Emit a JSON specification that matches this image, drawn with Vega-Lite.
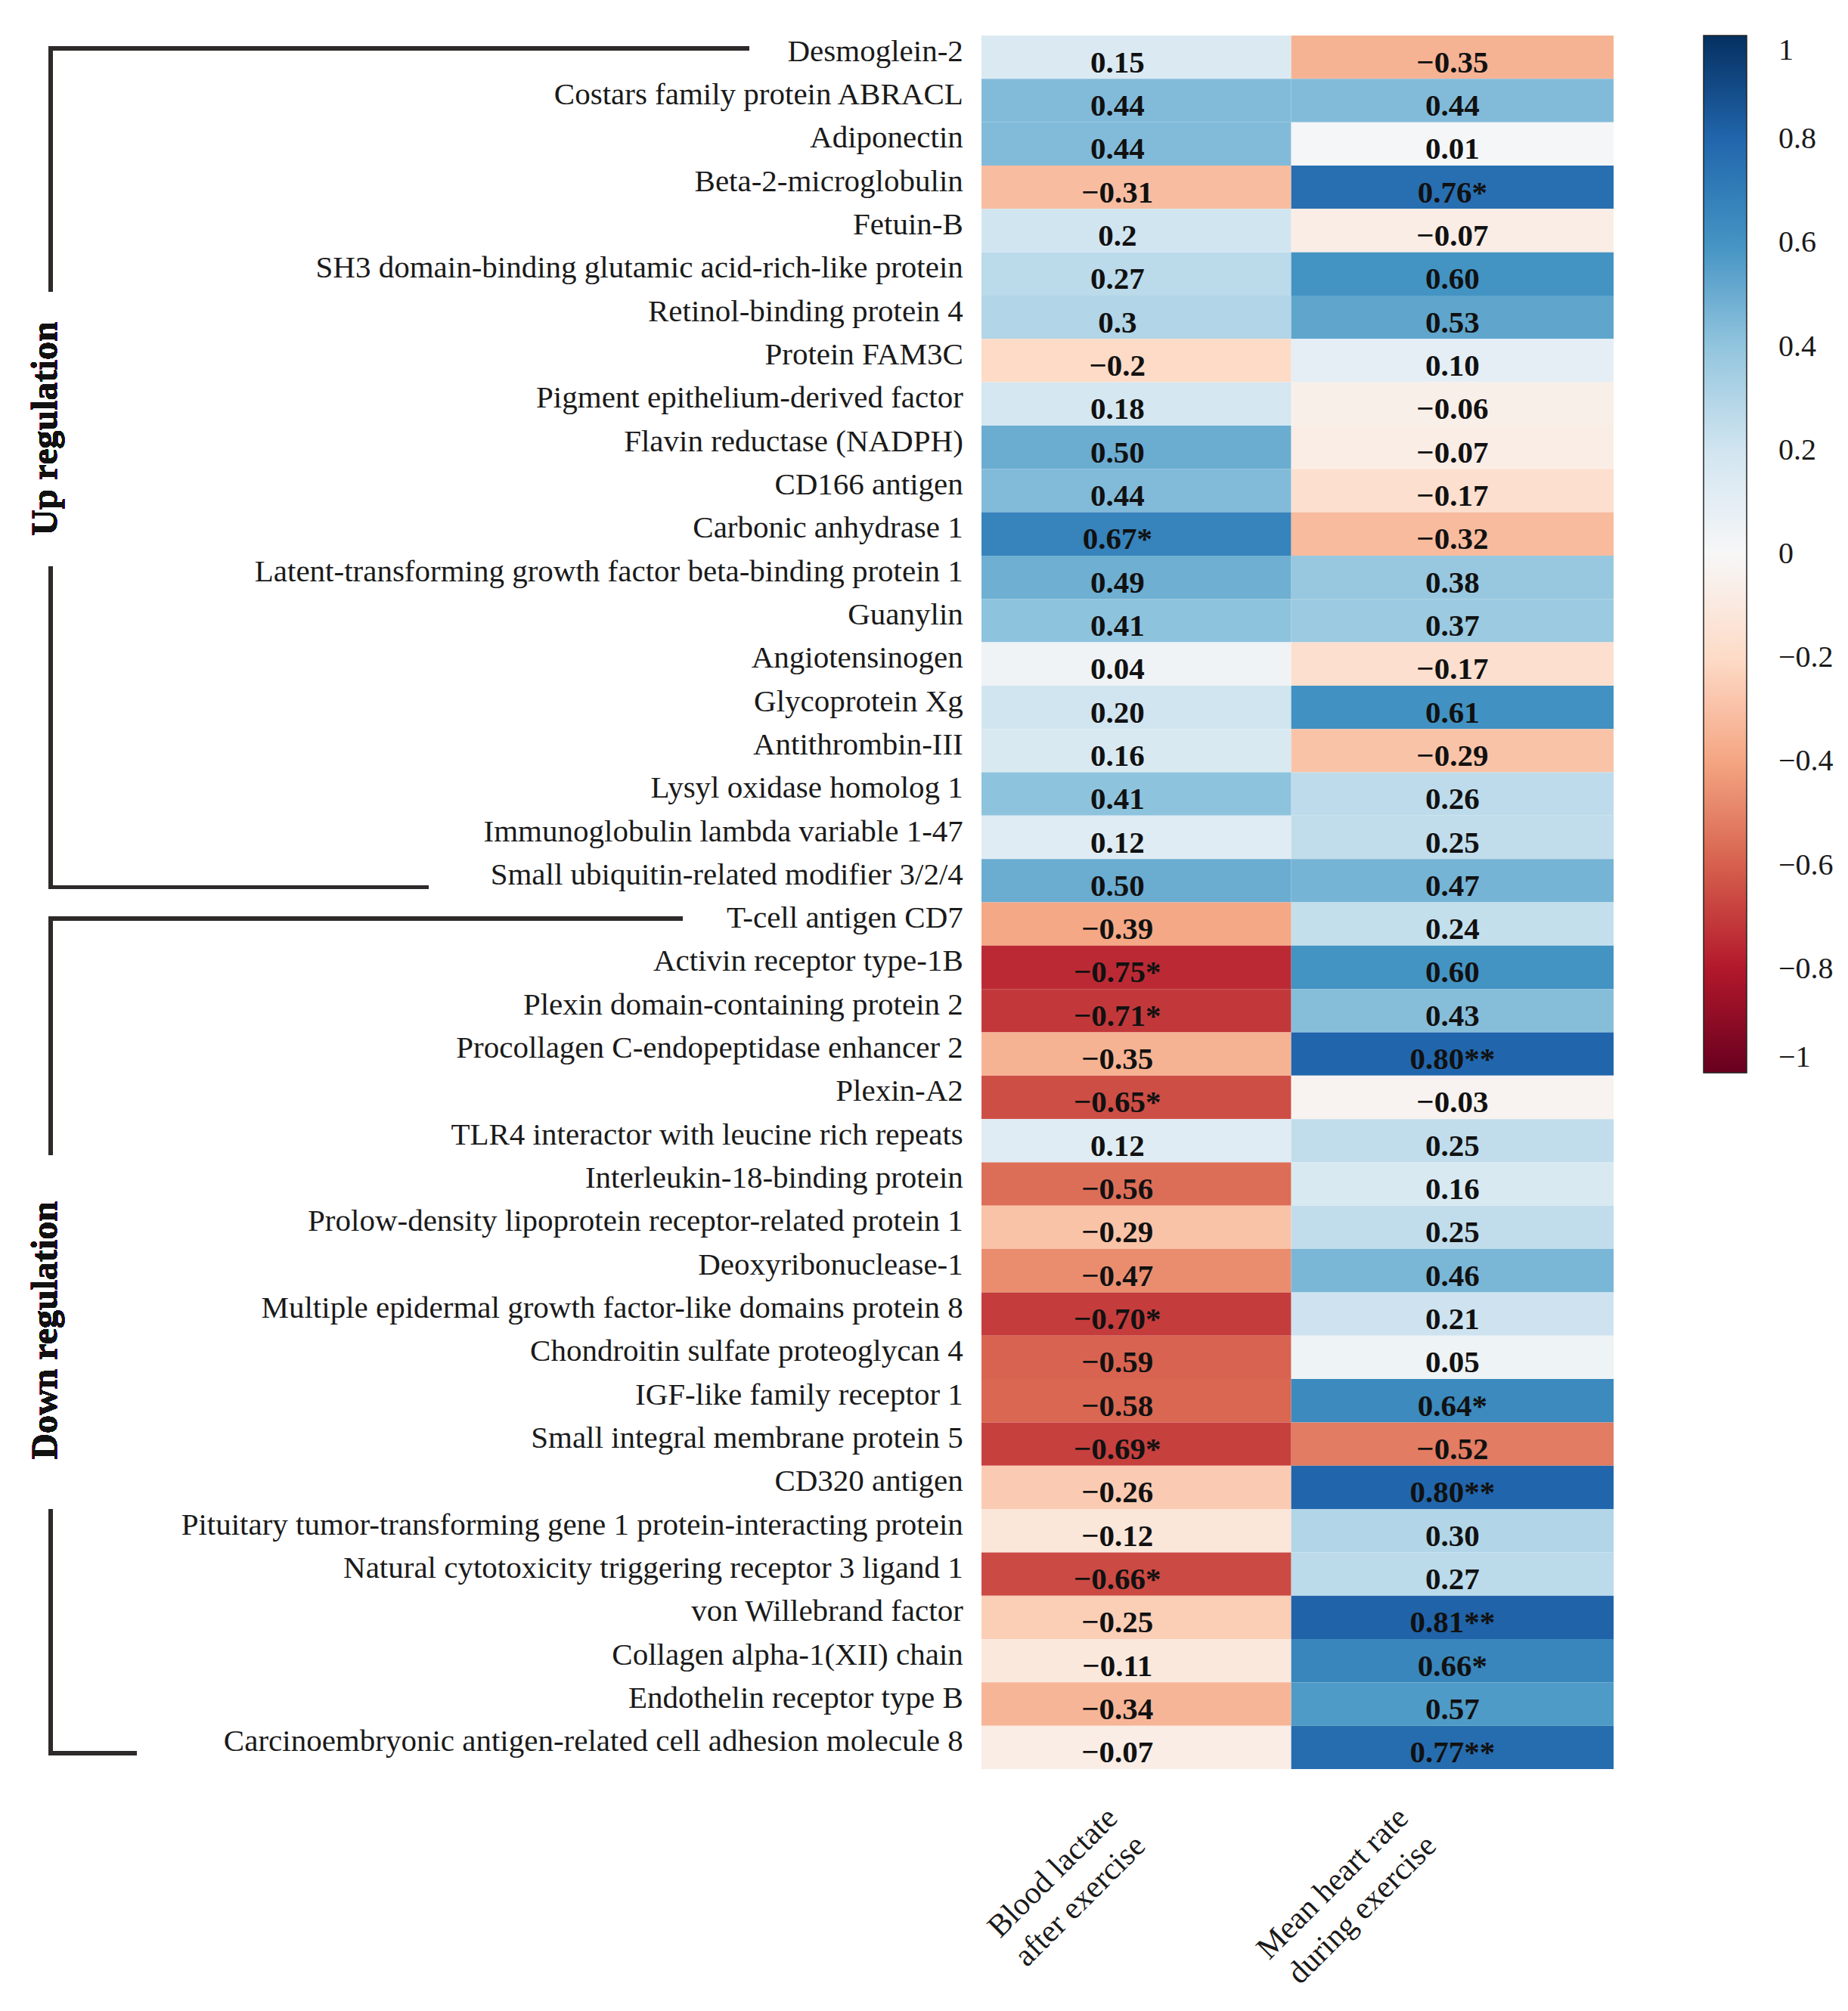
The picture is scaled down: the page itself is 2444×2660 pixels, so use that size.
{
  "$schema": "https://vega.github.io/schema/vega-lite/v6.json",
  "width": 2115,
  "height": 2293,
  "padding": {"left": 19, "top": 47, "right": 5, "bottom": 5},
  "background": "white",
  "config": {"view": {"stroke": null}},
  "data": {"values": [
    {"i":0,"protein":"Desmoglein-2","measure":"lactate","r":0.15,"label":"0.15"},
    {"i":0,"protein":"Desmoglein-2","measure":"hr","r":-0.35,"label":"−0.35"},
    {"i":1,"protein":"Costars family protein ABRACL","measure":"lactate","r":0.44,"label":"0.44"},
    {"i":1,"protein":"Costars family protein ABRACL","measure":"hr","r":0.44,"label":"0.44"},
    {"i":2,"protein":"Adiponectin","measure":"lactate","r":0.44,"label":"0.44"},
    {"i":2,"protein":"Adiponectin","measure":"hr","r":0.01,"label":"0.01"},
    {"i":3,"protein":"Beta-2-microglobulin","measure":"lactate","r":-0.31,"label":"−0.31"},
    {"i":3,"protein":"Beta-2-microglobulin","measure":"hr","r":0.76,"label":"0.76*"},
    {"i":4,"protein":"Fetuin-B","measure":"lactate","r":0.2,"label":"0.2"},
    {"i":4,"protein":"Fetuin-B","measure":"hr","r":-0.07,"label":"−0.07"},
    {"i":5,"protein":"SH3 domain-binding glutamic acid-rich-like protein","measure":"lactate","r":0.27,"label":"0.27"},
    {"i":5,"protein":"SH3 domain-binding glutamic acid-rich-like protein","measure":"hr","r":0.60,"label":"0.60"},
    {"i":6,"protein":"Retinol-binding protein 4","measure":"lactate","r":0.3,"label":"0.3"},
    {"i":6,"protein":"Retinol-binding protein 4","measure":"hr","r":0.53,"label":"0.53"},
    {"i":7,"protein":"Protein FAM3C","measure":"lactate","r":-0.2,"label":"−0.2"},
    {"i":7,"protein":"Protein FAM3C","measure":"hr","r":0.10,"label":"0.10"},
    {"i":8,"protein":"Pigment epithelium-derived factor","measure":"lactate","r":0.18,"label":"0.18"},
    {"i":8,"protein":"Pigment epithelium-derived factor","measure":"hr","r":-0.06,"label":"−0.06"},
    {"i":9,"protein":"Flavin reductase (NADPH)","measure":"lactate","r":0.50,"label":"0.50"},
    {"i":9,"protein":"Flavin reductase (NADPH)","measure":"hr","r":-0.07,"label":"−0.07"},
    {"i":10,"protein":"CD166 antigen","measure":"lactate","r":0.44,"label":"0.44"},
    {"i":10,"protein":"CD166 antigen","measure":"hr","r":-0.17,"label":"−0.17"},
    {"i":11,"protein":"Carbonic anhydrase 1","measure":"lactate","r":0.67,"label":"0.67*"},
    {"i":11,"protein":"Carbonic anhydrase 1","measure":"hr","r":-0.32,"label":"−0.32"},
    {"i":12,"protein":"Latent-transforming growth factor beta-binding protein 1","measure":"lactate","r":0.49,"label":"0.49"},
    {"i":12,"protein":"Latent-transforming growth factor beta-binding protein 1","measure":"hr","r":0.38,"label":"0.38"},
    {"i":13,"protein":"Guanylin","measure":"lactate","r":0.41,"label":"0.41"},
    {"i":13,"protein":"Guanylin","measure":"hr","r":0.37,"label":"0.37"},
    {"i":14,"protein":"Angiotensinogen","measure":"lactate","r":0.04,"label":"0.04"},
    {"i":14,"protein":"Angiotensinogen","measure":"hr","r":-0.17,"label":"−0.17"},
    {"i":15,"protein":"Glycoprotein Xg","measure":"lactate","r":0.20,"label":"0.20"},
    {"i":15,"protein":"Glycoprotein Xg","measure":"hr","r":0.61,"label":"0.61"},
    {"i":16,"protein":"Antithrombin-III","measure":"lactate","r":0.16,"label":"0.16"},
    {"i":16,"protein":"Antithrombin-III","measure":"hr","r":-0.29,"label":"−0.29"},
    {"i":17,"protein":"Lysyl oxidase homolog 1","measure":"lactate","r":0.41,"label":"0.41"},
    {"i":17,"protein":"Lysyl oxidase homolog 1","measure":"hr","r":0.26,"label":"0.26"},
    {"i":18,"protein":"Immunoglobulin lambda variable 1-47","measure":"lactate","r":0.12,"label":"0.12"},
    {"i":18,"protein":"Immunoglobulin lambda variable 1-47","measure":"hr","r":0.25,"label":"0.25"},
    {"i":19,"protein":"Small ubiquitin-related modifier 3/2/4","measure":"lactate","r":0.50,"label":"0.50"},
    {"i":19,"protein":"Small ubiquitin-related modifier 3/2/4","measure":"hr","r":0.47,"label":"0.47"},
    {"i":20,"protein":"T-cell antigen CD7","measure":"lactate","r":-0.39,"label":"−0.39"},
    {"i":20,"protein":"T-cell antigen CD7","measure":"hr","r":0.24,"label":"0.24"},
    {"i":21,"protein":"Activin receptor type-1B","measure":"lactate","r":-0.75,"label":"−0.75*"},
    {"i":21,"protein":"Activin receptor type-1B","measure":"hr","r":0.60,"label":"0.60"},
    {"i":22,"protein":"Plexin domain-containing protein 2","measure":"lactate","r":-0.71,"label":"−0.71*"},
    {"i":22,"protein":"Plexin domain-containing protein 2","measure":"hr","r":0.43,"label":"0.43"},
    {"i":23,"protein":"Procollagen C-endopeptidase enhancer 2","measure":"lactate","r":-0.35,"label":"−0.35"},
    {"i":23,"protein":"Procollagen C-endopeptidase enhancer 2","measure":"hr","r":0.80,"label":"0.80**"},
    {"i":24,"protein":"Plexin-A2","measure":"lactate","r":-0.65,"label":"−0.65*"},
    {"i":24,"protein":"Plexin-A2","measure":"hr","r":-0.03,"label":"−0.03"},
    {"i":25,"protein":"TLR4 interactor with leucine rich repeats","measure":"lactate","r":0.12,"label":"0.12"},
    {"i":25,"protein":"TLR4 interactor with leucine rich repeats","measure":"hr","r":0.25,"label":"0.25"},
    {"i":26,"protein":"Interleukin-18-binding protein","measure":"lactate","r":-0.56,"label":"−0.56"},
    {"i":26,"protein":"Interleukin-18-binding protein","measure":"hr","r":0.16,"label":"0.16"},
    {"i":27,"protein":"Prolow-density lipoprotein receptor-related protein 1","measure":"lactate","r":-0.29,"label":"−0.29"},
    {"i":27,"protein":"Prolow-density lipoprotein receptor-related protein 1","measure":"hr","r":0.25,"label":"0.25"},
    {"i":28,"protein":"Deoxyribonuclease-1","measure":"lactate","r":-0.47,"label":"−0.47"},
    {"i":28,"protein":"Deoxyribonuclease-1","measure":"hr","r":0.46,"label":"0.46"},
    {"i":29,"protein":"Multiple epidermal growth factor-like domains protein 8","measure":"lactate","r":-0.70,"label":"−0.70*"},
    {"i":29,"protein":"Multiple epidermal growth factor-like domains protein 8","measure":"hr","r":0.21,"label":"0.21"},
    {"i":30,"protein":"Chondroitin sulfate proteoglycan 4","measure":"lactate","r":-0.59,"label":"−0.59"},
    {"i":30,"protein":"Chondroitin sulfate proteoglycan 4","measure":"hr","r":0.05,"label":"0.05"},
    {"i":31,"protein":"IGF-like family receptor 1","measure":"lactate","r":-0.58,"label":"−0.58"},
    {"i":31,"protein":"IGF-like family receptor 1","measure":"hr","r":0.64,"label":"0.64*"},
    {"i":32,"protein":"Small integral membrane protein 5","measure":"lactate","r":-0.69,"label":"−0.69*"},
    {"i":32,"protein":"Small integral membrane protein 5","measure":"hr","r":-0.52,"label":"−0.52"},
    {"i":33,"protein":"CD320 antigen","measure":"lactate","r":-0.26,"label":"−0.26"},
    {"i":33,"protein":"CD320 antigen","measure":"hr","r":0.80,"label":"0.80**"},
    {"i":34,"protein":"Pituitary tumor-transforming gene 1 protein-interacting protein","measure":"lactate","r":-0.12,"label":"−0.12"},
    {"i":34,"protein":"Pituitary tumor-transforming gene 1 protein-interacting protein","measure":"hr","r":0.30,"label":"0.30"},
    {"i":35,"protein":"Natural cytotoxicity triggering receptor 3 ligand 1","measure":"lactate","r":-0.66,"label":"−0.66*"},
    {"i":35,"protein":"Natural cytotoxicity triggering receptor 3 ligand 1","measure":"hr","r":0.27,"label":"0.27"},
    {"i":36,"protein":"von Willebrand factor","measure":"lactate","r":-0.25,"label":"−0.25"},
    {"i":36,"protein":"von Willebrand factor","measure":"hr","r":0.81,"label":"0.81**"},
    {"i":37,"protein":"Collagen alpha-1(XII) chain","measure":"lactate","r":-0.11,"label":"−0.11"},
    {"i":37,"protein":"Collagen alpha-1(XII) chain","measure":"hr","r":0.66,"label":"0.66*"},
    {"i":38,"protein":"Endothelin receptor type B","measure":"lactate","r":-0.34,"label":"−0.34"},
    {"i":38,"protein":"Endothelin receptor type B","measure":"hr","r":0.57,"label":"0.57"},
    {"i":39,"protein":"Carcinoembryonic antigen-related cell adhesion molecule 8","measure":"lactate","r":-0.07,"label":"−0.07"},
    {"i":39,"protein":"Carcinoembryonic antigen-related cell adhesion molecule 8","measure":"hr","r":0.77,"label":"0.77**"}
  ]},
  "resolve": {"scale": {"y": "independent"}},
  "layer": [
    {
      "encoding": {
        "y": {"field": "protein", "type": "nominal", "sort": {"field": "i", "op": "min"}, "scale": {"type": "band", "paddingInner": 0, "paddingOuter": 0}, "axis": null}
      },
      "layer": [
        {
          "transform": [{"filter": "datum.measure == 'lactate'"}],
          "mark": {"type": "rect"},
          "encoding": {
            "x": {"datum": 0, "type": "quantitative", "scale": {"domain": [-3.06, 2], "nice": false, "zero": false},
              "axis": {"orient": "bottom", "values": [0.45, 1.37], "title": null, "domain": false, "ticks": false, "grid": false,
                "labelExpr": "datum.value < 1 ? ['Blood lactate', 'after exercise'] : ['Mean heart rate', 'during exercise']",
                "labelAngle": -45, "labelAlign": "right", "labelBaseline": "bottom", "labelPadding": 73, "labelLimit": 2000,
                "labelFont": "Liberation Serif", "labelFontSize": 42, "labelLineHeight": 52, "labelColor": "#1a1a1a",
                "labelOverlap": false, "labelFlush": false, "labelBound": false}},
            "x2": {"datum": 0.98},
            "color": {"field": "r", "type": "quantitative",
              "scale": {"domain": [-1, -0.8, -0.6, -0.4, -0.2, 0, 0.2, 0.4, 0.6, 0.8, 1],
                "range": ["#67001f", "#b2182b", "#d6604d", "#f4a582", "#fddbc7", "#f7f7f7", "#d1e5f0", "#92c5de", "#4393c3", "#2166ac", "#053061"],
                "interpolate": "rgb"},
              "legend": {"title": null, "orient": "right", "offset": 119, "padding": 0, "direction": "vertical",
                "gradientLength": 1372, "gradientThickness": 57, "gradientStrokeColor": "#222", "gradientStrokeWidth": 1.5,
                "values": [-1, -0.8, -0.6, -0.4, -0.2, 0, 0.2, 0.4, 0.6, 0.8, 1], "format": "~g",
                "labelFont": "Liberation Serif", "labelFontSize": 40, "labelColor": "#1a1a1a",
                "labelBaseline": "middle", "labelOffset": 42, "labelOverlap": false}}
          }
        },
        {
          "transform": [{"filter": "datum.measure == 'hr'"}],
          "mark": {"type": "rect"},
          "encoding": {
            "x": {"datum": 0.98, "type": "quantitative"},
            "x2": {"datum": 2},
            "color": {"field": "r", "type": "quantitative"}
          }
        },
        {
          "transform": [{"filter": "datum.measure == 'lactate'"}],
          "mark": {"type": "text", "font": "Liberation Serif", "fontWeight": "bold", "fontSize": 41, "align": "center", "baseline": "alphabetic", "dy": 20, "color": "#111"},
          "encoding": {
            "x": {"datum": 0.43, "type": "quantitative"},
            "text": {"field": "label"}
          }
        },
        {
          "transform": [{"filter": "datum.measure == 'hr'"}],
          "mark": {"type": "text", "font": "Liberation Serif", "fontWeight": "bold", "fontSize": 41, "align": "center", "baseline": "alphabetic", "dy": 20, "color": "#111"},
          "encoding": {
            "x": {"datum": 1.49, "type": "quantitative"},
            "text": {"field": "label"}
          }
        },
        {
          "transform": [{"filter": "datum.measure == 'lactate'"}],
          "mark": {"type": "text", "font": "Liberation Serif", "fontSize": 41, "align": "right", "baseline": "alphabetic", "dy": 5, "color": "#1a1a1a"},
          "encoding": {
            "x": {"datum": -0.058, "type": "quantitative"},
            "text": {"field": "protein"}
          }
        }
      ]
    },
    {
      "encoding": {
        "y": {"type": "quantitative", "scale": {"domain": [-0.5, 39.5], "reverse": true, "nice": false, "zero": false}, "axis": null}
      },
      "layer": [
        {"mark": {"type": "rule", "stroke": "#2e2a2a", "strokeWidth": 5, "strokeCap": "square"},
         "encoding": {"x": {"datum": -2.945, "type": "quantitative"}, "x2": {"datum": -0.742}, "y": {"datum": -0.2, "type": "quantitative"}}},
        {"mark": {"type": "rule", "stroke": "#2e2a2a", "strokeWidth": 5, "strokeCap": "square"},
         "encoding": {"x": {"datum": -2.945, "type": "quantitative"}, "y": {"datum": -0.2, "type": "quantitative"}, "y2": {"datum": 5.36}}},
        {"mark": {"type": "rule", "stroke": "#2e2a2a", "strokeWidth": 5, "strokeCap": "square"},
         "encoding": {"x": {"datum": -2.945, "type": "quantitative"}, "y": {"datum": 11.8, "type": "quantitative"}, "y2": {"datum": 19.15}}},
        {"mark": {"type": "rule", "stroke": "#2e2a2a", "strokeWidth": 5, "strokeCap": "square"},
         "encoding": {"x": {"datum": -2.945, "type": "quantitative"}, "x2": {"datum": -1.756}, "y": {"datum": 19.15, "type": "quantitative"}}},
        {"mark": {"type": "rule", "stroke": "#2e2a2a", "strokeWidth": 5, "strokeCap": "square"},
         "encoding": {"x": {"datum": -2.945, "type": "quantitative"}, "x2": {"datum": -0.952}, "y": {"datum": 19.87, "type": "quantitative"}}},
        {"mark": {"type": "rule", "stroke": "#2e2a2a", "strokeWidth": 5, "strokeCap": "square"},
         "encoding": {"x": {"datum": -2.945, "type": "quantitative"}, "y": {"datum": 19.87, "type": "quantitative"}, "y2": {"datum": 25.29}}},
        {"mark": {"type": "rule", "stroke": "#2e2a2a", "strokeWidth": 5, "strokeCap": "square"},
         "encoding": {"x": {"datum": -2.945, "type": "quantitative"}, "y": {"datum": 33.55, "type": "quantitative"}, "y2": {"datum": 39.13}}},
        {"mark": {"type": "rule", "stroke": "#2e2a2a", "strokeWidth": 5, "strokeCap": "square"},
         "encoding": {"x": {"datum": -2.945, "type": "quantitative"}, "x2": {"datum": -2.679}, "y": {"datum": 39.13, "type": "quantitative"}}},
        {"mark": {"type": "text", "text": "Up regulation", "angle": 270, "font": "Liberation Serif", "fontWeight": "bold", "fontSize": 48, "align": "center", "baseline": "middle", "color": "#111"},
         "encoding": {"x": {"datum": -2.96, "type": "quantitative"}, "y": {"datum": 8.57, "type": "quantitative"}}},
        {"mark": {"type": "text", "text": "Down regulation", "angle": 270, "font": "Liberation Serif", "fontWeight": "bold", "fontSize": 48, "align": "center", "baseline": "middle", "color": "#111"},
         "encoding": {"x": {"datum": -2.96, "type": "quantitative"}, "y": {"datum": 29.38, "type": "quantitative"}}}
      ]
    }
  ]
}
